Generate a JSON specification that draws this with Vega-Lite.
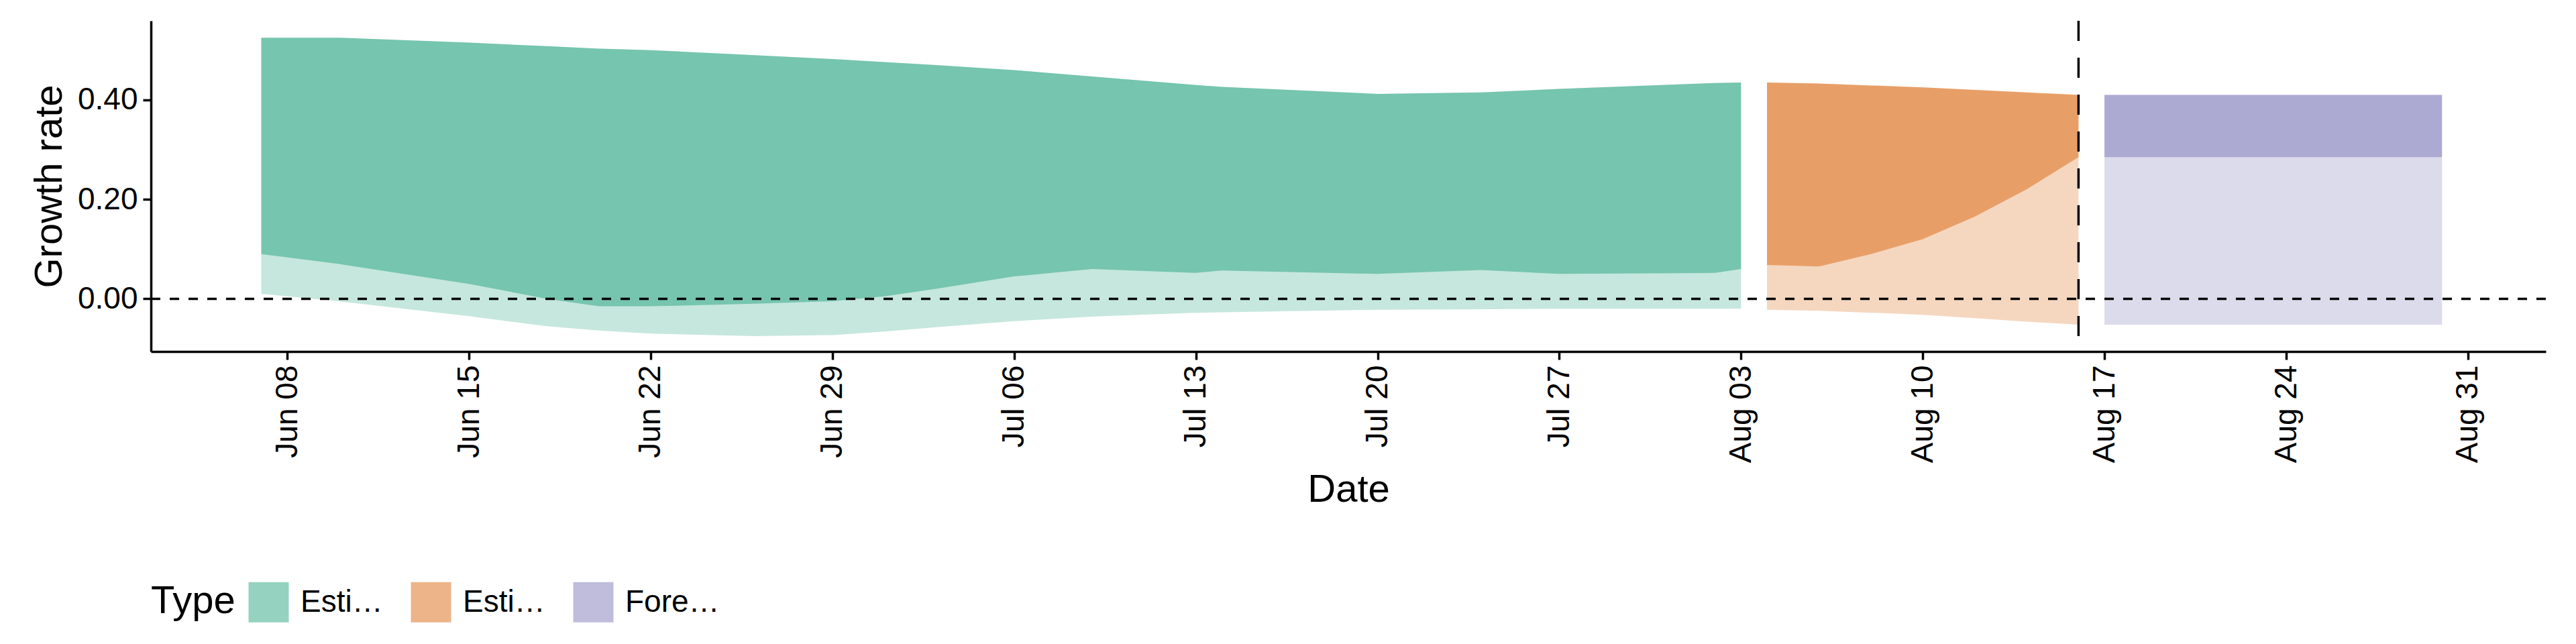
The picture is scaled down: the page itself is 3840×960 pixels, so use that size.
{
"$schema":"https://vega.github.io/schema/vega-lite/v6.json",
"width":3570,"height":493,
"padding":{"left":45,"top":29,"right":28,"bottom":5},
"background":"white",
"config":{"view":{"stroke":null},"font":"Liberation Sans",
"axis":{"grid":false,"domainColor":"black","domainWidth":3.5,"tickColor":"black","tickWidth":3.5,"tickSize":12,"labelColor":"black","titleColor":"black","labelFontSize":46,"titleFontSize":58,"titleFontWeight":"normal","labelPadding":8}},
"datasets":{"d":[
{"date":"2020-06-07","Type":"Estimate","upper":0.525,"lower50":0.09,"lower90":0.01},
{"date":"2020-06-10","Type":"Estimate","upper":0.525,"lower50":0.07,"lower90":-0.005},
{"date":"2020-06-15","Type":"Estimate","upper":0.515,"lower50":0.03,"lower90":-0.035},
{"date":"2020-06-18","Type":"Estimate","upper":0.508,"lower50":0.0,"lower90":-0.055},
{"date":"2020-06-20","Type":"Estimate","upper":0.503,"lower50":-0.015,"lower90":-0.064},
{"date":"2020-06-22","Type":"Estimate","upper":0.5,"lower50":-0.015,"lower90":-0.07},
{"date":"2020-06-26","Type":"Estimate","upper":0.49,"lower50":-0.01,"lower90":-0.075},
{"date":"2020-06-29","Type":"Estimate","upper":0.482,"lower50":-0.005,"lower90":-0.073},
{"date":"2020-07-01","Type":"Estimate","upper":0.476,"lower50":0.005,"lower90":-0.066},
{"date":"2020-07-03","Type":"Estimate","upper":0.47,"lower50":0.02,"lower90":-0.057},
{"date":"2020-07-06","Type":"Estimate","upper":0.46,"lower50":0.045,"lower90":-0.045},
{"date":"2020-07-09","Type":"Estimate","upper":0.447,"lower50":0.06,"lower90":-0.036},
{"date":"2020-07-13","Type":"Estimate","upper":0.43,"lower50":0.052,"lower90":-0.028},
{"date":"2020-07-14","Type":"Estimate","upper":0.426,"lower50":0.057,"lower90":-0.027},
{"date":"2020-07-20","Type":"Estimate","upper":0.412,"lower50":0.05,"lower90":-0.022},
{"date":"2020-07-24","Type":"Estimate","upper":0.415,"lower50":0.058,"lower90":-0.021},
{"date":"2020-07-27","Type":"Estimate","upper":0.422,"lower50":0.05,"lower90":-0.02},
{"date":"2020-08-02","Type":"Estimate","upper":0.434,"lower50":0.052,"lower90":-0.02},
{"date":"2020-08-03","Type":"Estimate","upper":0.435,"lower50":0.06,"lower90":-0.02},
{"date":"2020-08-04","Type":"Estimate based on partial data","upper":0.435,"lower50":0.068,"lower90":-0.022},
{"date":"2020-08-06","Type":"Estimate based on partial data","upper":0.433,"lower50":0.065,"lower90":-0.024},
{"date":"2020-08-08","Type":"Estimate based on partial data","upper":0.429,"lower50":0.09,"lower90":-0.028},
{"date":"2020-08-10","Type":"Estimate based on partial data","upper":0.425,"lower50":0.12,"lower90":-0.032},
{"date":"2020-08-12","Type":"Estimate based on partial data","upper":0.42,"lower50":0.165,"lower90":-0.039},
{"date":"2020-08-14","Type":"Estimate based on partial data","upper":0.415,"lower50":0.22,"lower90":-0.046},
{"date":"2020-08-16","Type":"Estimate based on partial data","upper":0.41,"lower50":0.285,"lower90":-0.052},
{"date":"2020-08-17","Type":"Forecast","upper":0.41,"lower50":0.285,"lower90":-0.052},
{"date":"2020-08-30","Type":"Forecast","upper":0.41,"lower50":0.285,"lower90":-0.052}
],
"v":[{"date":"2020-08-16"}],"h":[{"y":0}]},
"encoding":{},
"layer":[
{"data":{"name":"d"},"mark":{"type":"area","opacity":0.25},
"encoding":{"x":{"field":"date","type":"temporal","scale":{"type":"utc","domain":["2020-06-02T18:00:00","2020-09-03T00:00:00"]},
"axis":{"title":"Date","format":"%b %d","labelAngle":-90,"titlePadding":12,"values":[{"year":2020,"month":6,"date":8,"utc":true},{"year":2020,"month":6,"date":15,"utc":true},{"year":2020,"month":6,"date":22,"utc":true},{"year":2020,"month":6,"date":29,"utc":true},{"year":2020,"month":7,"date":6,"utc":true},{"year":2020,"month":7,"date":13,"utc":true},{"year":2020,"month":7,"date":20,"utc":true},{"year":2020,"month":7,"date":27,"utc":true},{"year":2020,"month":8,"date":3,"utc":true},{"year":2020,"month":8,"date":10,"utc":true},{"year":2020,"month":8,"date":17,"utc":true},{"year":2020,"month":8,"date":24,"utc":true},{"year":2020,"month":8,"date":31,"utc":true}]}},
"y":{"field":"lower90","type":"quantitative","scale":{"domain":[-0.106,0.559],"nice":false,"zero":false},"axis":{"title":"Growth rate","format":".2f","values":[0,0.2,0.4],"titlePadding":12}},
"y2":{"field":"upper"},
"color":{"field":"Type","type":"nominal","scale":{"domain":["Estimate","Estimate based on partial data","Forecast"],"range":["#1b9e77","#d95f02","#7570b3"]},
"legend":{"orient":"none","legendX":0,"legendY":835,"direction":"horizontal","title":"Type","titleOrient":"left","titleFontSize":58,"titleFontWeight":"normal","titleColor":"black","labelFontSize":46,"labelColor":"black","symbolType":"square","symbolSize":3600,"symbolOpacity":0.6,"symbolStrokeWidth":3,"columnPadding":40,"labelOffset":16,"titlePadding":18}},
"detail":{"field":"Type"}}},
{"data":{"name":"d"},"mark":{"type":"area","opacity":0.467},
"encoding":{"x":{"field":"date","type":"temporal"},
"y":{"field":"lower50","type":"quantitative"},"y2":{"field":"upper"},
"color":{"field":"Type","type":"nominal"}}},
{"data":{"name":"h"},"mark":{"type":"rule","color":"black","strokeDash":[14,14],"strokeWidth":3.5},"encoding":{"y":{"field":"y","type":"quantitative"}}},
{"data":{"name":"v"},"mark":{"type":"rule","color":"black","strokeDash":[30,25],"strokeWidth":3.5},"encoding":{"x":{"field":"date","type":"temporal"}}}
]
}
